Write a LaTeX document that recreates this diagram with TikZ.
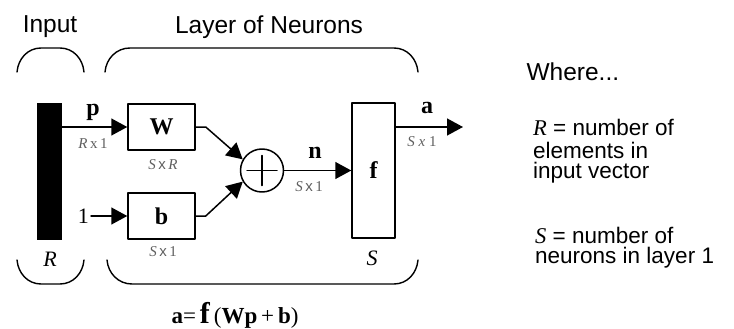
\documentclass[tikz,border=0pt]{standalone}
\usepackage{fontspec}
\setmainfont{Liberation Serif}
\setsansfont{Liberation Sans}
\usetikzlibrary{arrows.meta}
\definecolor{dimgray}{RGB}{95,95,95}
\tikzset{
    lab/.style={
        font=\fontsize{24.5}{26}\sffamily\selectfont
    },
    sym/.style={
        font=\fontsize{24}{26}\selectfont\bfseries
    },
    dim/.style={
        font=\fontsize{15}{17}\selectfont, text=dimgray
    }
}

\begin{document}
\begin{tikzpicture}[x=1pt,y=-1pt, line cap=round, line join=round]

% box + arrow styles
\tikzset{
  main/.style={draw=black, line width=1.5pt},
  brk/.style={draw=black, line width=1.4pt},
  arr/.style={main, -{Triangle[length=16pt,width=17pt]}},
  blk/.style={rectangle, fill=black, minimum width=25pt, minimum height=137pt, inner sep=0pt},
  box/.style={rectangle, main, minimum width=67pt, minimum height=46pt, inner sep=0pt},
  sumc/.style={circle, main, minimum size=43pt, inner sep=0pt},
  defl/.style={lab, anchor=west, inner sep=0pt, font=\fontsize{22.5}{23}\sffamily\selectfont},
}

  \useasboundingbox (0,0) rectangle (734,329);

  % nodes
  \node[blk] (bar) at (49.5,171.5) {};
  \node[box, sym] (W) at (161.5,127) {W};
  \node[box, sym] (b) at (161.5,216) {b};
  \node[sumc] (sum) at (262,170.5) {};
  \node[rectangle, main, sym, minimum width=43pt, minimum height=135pt, inner sep=0pt] (f) at (373.5,170.5) {f};
  \node[font=\fontsize{22}{24}\selectfont, anchor=east, inner sep=2pt] (one) at (91,216) {1};
  \coordinate (aend) at (463,127);

  % plus sign
  \draw[main] (sum.center) ++(-15,0) -- ++(30,0);
  \draw[main] (sum.center) ++(0,-15) -- ++(0,30);

  % connectors
  \draw[arr] (bar.east |- W.west) -- (W.west);
  \draw[arr] (one.east) -- (b.west);
  \draw[arr] (W.east) -- ++(10,0) -- (sum.150);
  \draw[arr] (b.east) -- ++(10,0) -- (sum.210);
  \draw[arr] (sum.east) -- (f.west);
  \draw[arr] (f.east |- aend) -- (aend);

  % braces
  \draw[brk] (17,72) to[out=85,in=180] (41,48) -- (60,48) to[out=0,in=95] (84,72);
  \draw[brk] (105,72) to[out=85,in=180] (130,48) -- (394,48) to[out=0,in=95] (418,72);
  \draw[brk] (17,260) to[out=-85,in=180] (41,284) -- (60,284) to[out=0,in=-95] (84,260);
  \draw[brk] (107,260) to[out=-85,in=180] (132,284) -- (394,284) to[out=0,in=-95] (418,260);

  % labels
  \node[lab] (tin) at (50,27) {Input};
  \node[lab] (tlay) at (269,27) {Layer of Neurons};
  \node[sym] (lp) at (93,112) {p};
  \node[dim] (dp) at (93,144) {\textit{R}\,x\,1};
  \node[dim] (dW) at (163,165) {\textit{S}\,{\sffamily x}\,\textit{R}};
  \node[dim] (db) at (163,252) {\textit{S}\,{\sffamily x}\,1};
  \node[sym] (ln) at (315,153) {n};
  \node[dim] (dn) at (309,187) {\textit{S}\,{\sffamily x}\,1};
  \node[sym] (la) at (427,108) {a};
  \node[dim] (da) at (422,142) {\textit{S x} 1};
  \node[font=\fontsize{22}{24}\selectfont\itshape] (lR) at (50,259) {R};
  \node[font=\fontsize{22}{24}\selectfont\itshape] (lS) at (372,258) {S};
  \node[font=\fontsize{23}{26}\selectfont] (eq) at (235,315)
    {\textbf{a}=\,{\fontsize{30}{30}\selectfont\textbf{f}}\,(\textbf{Wp}\,+\,\textbf{b})};

  % legend text
  \node[lab, anchor=west] (where) at (523,72) {Where...};
  \node[defl] (defR1) at (533,127) {{\rmfamily\itshape R} = number of};
  \node[defl] (defR2) at (533,150) {elements in};
  \node[defl] (defR3) at (533,173) {input vector};
  \node[defl] (defS1) at (535,235) {{\rmfamily\itshape S} = number of};
  \node[defl] (defS2) at (535,258) {neurons in layer 1};

\end{tikzpicture}
\end{document}
